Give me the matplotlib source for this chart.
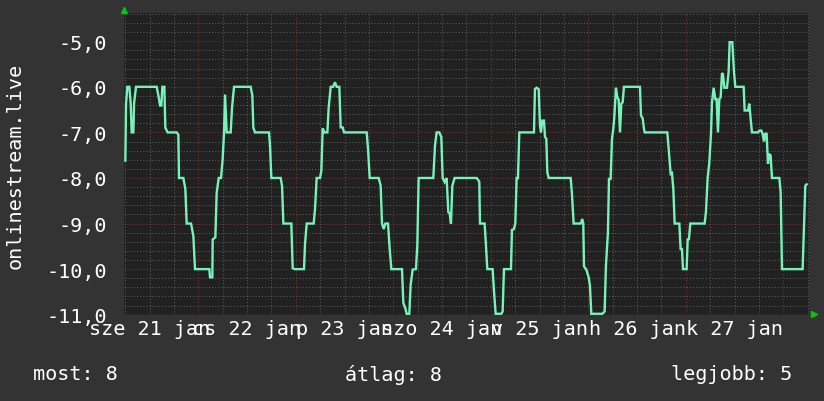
import matplotlib
matplotlib.use("Agg")
import matplotlib.pyplot as plt

# hours since 21 Jan 00:00
hours = [6.04, 6.21, 6.53, 7.03, 7.36, 7.60, 8.01, 8.18, 8.67, 13.76, 14.17, 14.58, 14.90, 15.15, 15.64,
         15.89, 16.46, 18.68, 19.09, 19.25, 20.32, 20.81, 21.14, 22.21, 22.78, 23.19, 26.72, 26.88, 27.46,
         27.54, 28.20, 28.52, 29.02, 29.59, 30.00, 30.33, 30.58, 30.99, 31.97, 32.30, 32.79, 36.89, 37.30,
         37.55, 37.96,
         41.41, 41.65, 41.98, 44.28, 44.61, 44.94, 46.90, 47.23, 47.73, 50.02, 50.27, 50.68, 52.40, 52.73,
         53.14, 53.96, 54.29, 54.62, 55.03, 55.77, 56.09, 56.59, 57.16, 57.65, 58.06, 58.72, 59.05, 59.54,
         59.87, 65.45, 65.78, 66.19, 68.40, 68.89, 69.22, 69.63, 70.04, 70.70, 71.11, 71.52,
         74.14, 74.47, 74.96, 75.29, 75.94, 76.27, 76.76, 77.58, 77.91, 78.24, 81.85, 82.26, 82.67, 83.33,
         83.82, 84.15, 84.64, 85.13, 85.54, 85.87, 86.20, 86.53, 87.10, 92.52, 93.17, 93.34, 94.48, 94.81,
         95.14, 96.45, 96.78, 97.19, 98.59, 98.92, 99.24, 100.97, 101.21, 101.70, 102.03, 102.36, 102.69,
         103.02, 106.63, 106.87,
         107.29, 107.78, 108.11, 108.35, 108.68, 109.09, 109.34, 109.67, 109.91, 110.24, 115.66, 115.98,
         116.39, 118.12, 118.53, 118.77, 118.94, 119.51, 120.09, 120.41, 120.74, 123.45, 124.02, 124.35,
         124.84, 125.09, 125.50, 125.83, 126.16, 126.40, 126.81, 127.14, 127.47, 127.80, 128.13, 128.46,
         128.78, 132.72, 132.97, 133.38, 133.71, 133.87, 139.45, 139.78, 140.27, 140.60, 140.93, 141.26,
         142.41, 142.73, 143.06, 143.31, 144.21, 144.46, 144.78, 145.11, 148.64, 148.97, 149.38, 149.79,
         150.20, 150.45, 150.86, 151.27, 151.59, 151.92, 152.25, 152.58, 152.91, 153.15, 153.48, 154.14,
         154.55, 154.79, 155.45, 155.86, 156.19, 158.24, 158.49, 159.31, 159.64, 159.96, 160.29, 161.77,
         162.10, 162.59, 162.92, 163.25, 163.57, 163.90, 164.23, 164.56, 164.89, 165.21, 167.02, 167.35,
         167.68, 172.76, 173.09, 173.42, 173.75]
values = [-7.62, -6.37, -6.0, -6.0, -6.37, -7.0, -7.0, -6.37, -6.0, -6.0, -6.19, -6.41, -6.41, -6.0, -6.0,
          -6.9, -7.0, -7.0, -7.05, -8.0, -8.0, -8.24, -9.0, -9.0, -9.27, -10.0, -10.0, -10.18, -10.18,
          -9.35, -9.3, -8.33, -8.0, -8.0, -7.58, -7.0, -6.17, -7.0, -7.0, -6.46, -6.0, -6.0, -6.19,
          -6.9, -7.0,
          -7.0, -7.29, -8.0, -8.0, -8.17, -9.0, -9.0, -9.98, -10.0, -10.0, -9.45, -9.0, -9.0, -8.68,
          -8.0, -8.0, -7.84, -6.91, -7.0, -7.0, -6.46, -6.0, -6.0, -5.9, -6.0, -6.0, -6.89, -6.89,
          -7.0, -7.0, -7.36, -8.0, -8.0, -8.17, -9.0, -9.12, -9.0, -9.0, -9.56, -10.0,
          -10.0, -10.74, -10.86, -10.98, -10.98, -10.35, -10.01, -10.0, -9.48, -8.0, -8.0, -7.29, -7.0, -7.0,
          -7.1, -8.0, -8.09, -8.0, -8.75, -8.78, -9.0, -8.17, -8.0, -8.0, -8.08, -9.0, -9.0, -9.48,
          -10.0, -10.0, -10.47, -10.98, -10.98, -10.93, -10.0, -10.0, -9.14, -9.12, -9.0, -8.0, -8.0,
          -7.0, -7.0, -6.05,
          -6.02, -6.05, -6.85, -7.0, -6.74, -6.74, -7.1, -7.14, -7.87, -8.0, -8.0, -8.35,
          -9.0, -9.0, -8.9, -9.0, -9.94, -10.01, -10.18, -10.36, -10.98, -10.98, -10.93, -9.92,
          -9.19, -8.02, -8.02, -7.14, -6.92, -6.67, -6.02, -6.23, -6.28, -7.0, -6.37, -6.34,
          -6.0, -6.0, -6.63, -6.69, -6.92, -7.0, -7.0, -7.35, -7.91, -7.89, -8.24, -9.0,
          -9.0, -9.56, -9.56, -10.0, -10.0, -9.35, -9.34, -9.0, -9.0, -8.74, -8.0, -7.66,
          -7.03, -6.34, -6.02, -6.27, -6.27, -7.0, -6.27, -6.23, -5.70, -5.72, -6.02, -6.02,
          -5.67, -5.02, -5.02, -5.67, -6.0, -6.0, -6.52, -6.52, -6.37, -6.70, -7.0, -7.0,
          -6.96, -6.96, -7.03, -7.2, -7.03, -7.03, -7.69, -7.47, -7.51, -8.0, -8.0, -8.31,
          -10.0, -10.0, -9.05, -8.17, -8.14]

y_ticks = [-5, -6, -7, -8, -9, -10, -11]
y_tick_labels = ["-5,0", "-6,0", "-7,0", "-8,0", "-9,0", "-10,0", "-11,0"]
day_label_hours = [12, 36, 60, 84, 108, 132, 156]
day_labels = ["sze 21 jan", "cs 22 jan", "p 23 jan", "szo 24 jan", "v 25 jan", "h 26 jan", "k 27 jan"]
axis_title = "onlinestream.live"
legend_most = "most: 8"
legend_atlag = "átlag: 8"
legend_best = "legjobb: 5"

W, H = 824, 402
BG = "#333333"
PLOT_BG = "#212121"
LINE = "#78f2b8"
MINOR = "#5c5c5c"
MAJOR = "#7a3434"
FONT = "DejaVu Sans Mono"
FS = 14.5

fig = plt.figure(figsize=(W / 100, H / 100), dpi=100, facecolor=BG)
L, R, T, B = 124, 809, 14, 315.7
ax = fig.add_axes([L / W, 1 - B / H, (R - L) / W, (B - T) / H])
ax.set_facecolor(PLOT_BG)
x0, x1 = 5.71, 174.33
y0, y1 = -11.0, -4.38
ax.set_xlim(x0, x1)
ax.set_ylim(y0, y1)

dot = (0, (1, 2))
# horizontal grid
k = 0
while -11 + 0.2 * k <= y1:
    yv = -11 + 0.2 * k
    if k % 5 == 0:
        ax.axhline(yv, color=MAJOR, lw=0.75, ls=dot, zorder=1)
    else:
        ax.axhline(yv, color=MINOR, lw=0.75, ls=dot, zorder=1)
    k += 1
# vertical grid
hh = 6
while hh <= x1:
    if hh % 24 == 0:
        ax.axvline(hh, color=MAJOR, lw=0.75, ls=dot, zorder=1)
    else:
        ax.axvline(hh, color=MINOR, lw=0.75, ls=dot, zorder=1)
    hh += 6

ax.plot(hours, values, color=LINE, lw=1.7, zorder=3, solid_joinstyle="miter")

for s in ax.spines.values():
    s.set_visible(False)
ax.axhline(y0, color="#444444", lw=1.0, zorder=2)

ax.set_yticks(y_ticks)
ax.set_yticklabels(y_tick_labels, fontfamily=FONT, fontsize=FS, color="white")
ax.set_xticks(day_label_hours)
ax.set_xticklabels(day_labels, fontfamily=FONT, fontsize=FS, color="white")
ax.tick_params(axis="both", length=0)
ax.tick_params(axis="y", pad=12)
ax.tick_params(axis="x", pad=3)

fig.text(15 / W, 1 - 166 / H, axis_title, rotation=90, ha="center", va="center",
         fontfamily=FONT, fontsize=FS, color="white")

fig.text(33 / W, 1 - 375 / H, legend_most, ha="left", va="center",
         fontfamily=FONT, fontsize=FS, color="white")
fig.text(393.5 / W, 1 - 375 / H, legend_atlag, ha="center", va="center",
         fontfamily=FONT, fontsize=FS, color="white")
fig.text(792 / W, 1 - 375 / H, legend_best, ha="right", va="center",
         fontfamily=FONT, fontsize=FS, color="white")

# axis arrows
fig.lines.append(plt.Line2D([124 / W], [1 - 11 / H], marker="^", markersize=5, color="#00cc00",
                            transform=fig.transFigure, figure=fig, lw=0))
fig.lines.append(plt.Line2D([814 / W], [1 - 315 / H], marker=">", markersize=5, color="#00cc00",
                            transform=fig.transFigure, figure=fig, lw=0))

fig.savefig("out.png", dpi=100, facecolor=BG)
